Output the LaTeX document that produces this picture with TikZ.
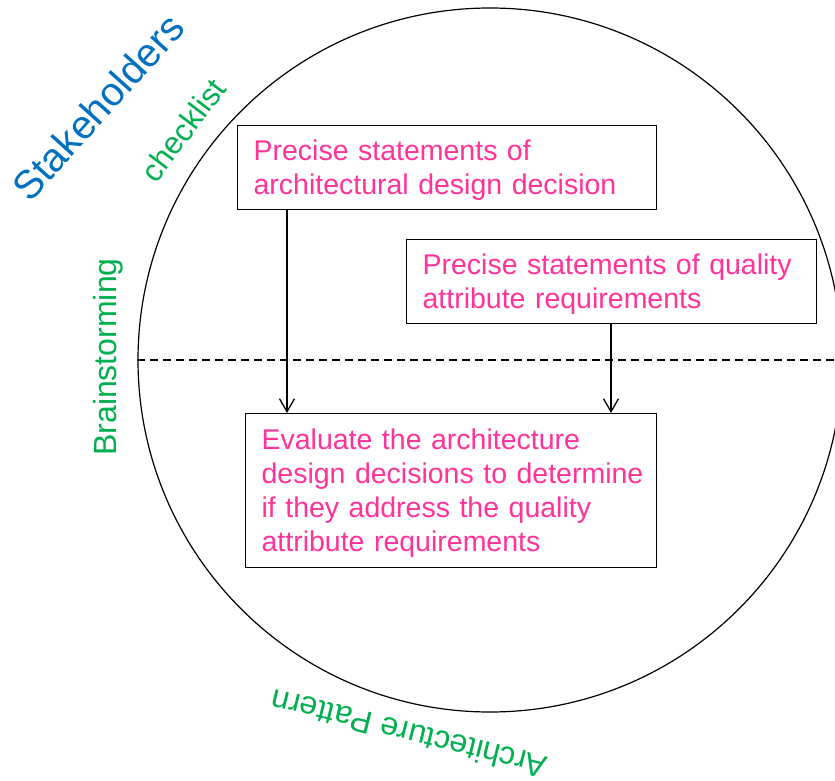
\documentclass[tikz,border=0pt]{standalone}
\usepackage{fontspec}
\setmainfont{Liberation Sans}
\usetikzlibrary{arrows.meta}
\definecolor{boxpink}{RGB}{255,51,153}
\definecolor{labgreen}{RGB}{0,176,80}
\definecolor{labblue}{RGB}{0,112,192}
\newcommand\fstrut{\rule{0pt}{35pt}}
\newcommand\lstrut{\rule[-15pt]{0pt}{15pt}}
\begin{document}
\begin{tikzpicture}[x=1pt,y=-1pt,
  box/.style={draw, line width=1.2pt, anchor=north west, align=left,
    inner xsep=16pt, inner ysep=0pt, text=boxpink,
    font=\fontsize{28.5}{34}\selectfont},
  arr/.style={line width=1.3pt, -{Straight Barb[length=13pt,width=15pt]}},
  lab/.style={inner sep=0pt}]
\clip (0,0) rectangle (835,781);
\useasboundingbox (0,0) rectangle (835,781);
\fill[white] (0,0) rectangle (835,781);
% big circle and dashed divider
\node[draw, circle, line width=1.2pt, minimum size=704pt, inner sep=0pt] (ring) at (490,360) {};
\coordinate (dashend) at (835,360);
\draw[line width=1.2pt, dash pattern=on 8pt off 5pt] (ring.west) -- (dashend);
% boxes
\node[box, text width=387pt] (b1) at (237,125)
  {\fstrut\mbox{Precise statements of}\\\mbox{architectural design decision}\lstrut};
\node[box, text width=378pt] (b2) at (406,239)
  {\fstrut\mbox{Precise statements of quality}\\\mbox{attribute requirements}\lstrut};
\node[box, text width=379pt, minimum height=154pt] (b3) at (245,413)
  {\fstrut\mbox{Evaluate the architecture}\\\mbox{design decisions to determine}\\\mbox{if they address the quality}\\\mbox{attribute requirements}\lstrut};
% connectors
\draw[arr] (b1.south west) ++(50,0) coordinate (a1) -- (a1 |- b3.north);
\draw[arr] (b2.south west) ++(205,0) coordinate (a2) -- (a2 |- b3.north);
% surrounding labels
\node[lab, text=labblue, font=\fontsize{40}{48}\selectfont, rotate=48] (stake) at (98,107) {Stakeholders};
\node[lab, text=labgreen, font=\fontsize{31}{36}\selectfont, rotate=53] (check) at (183,130) {checklist};
\node[lab, text=labgreen, font=\fontsize{32}{38}\selectfont, rotate=90] (brain) at (108,357) {Brainstorming};
\node[lab, text=labgreen, font=\fontsize{32}{38}\selectfont, rotate=166] (pattern) at (409,734) {Architecture Pattern};
\end{tikzpicture}
\end{document}
